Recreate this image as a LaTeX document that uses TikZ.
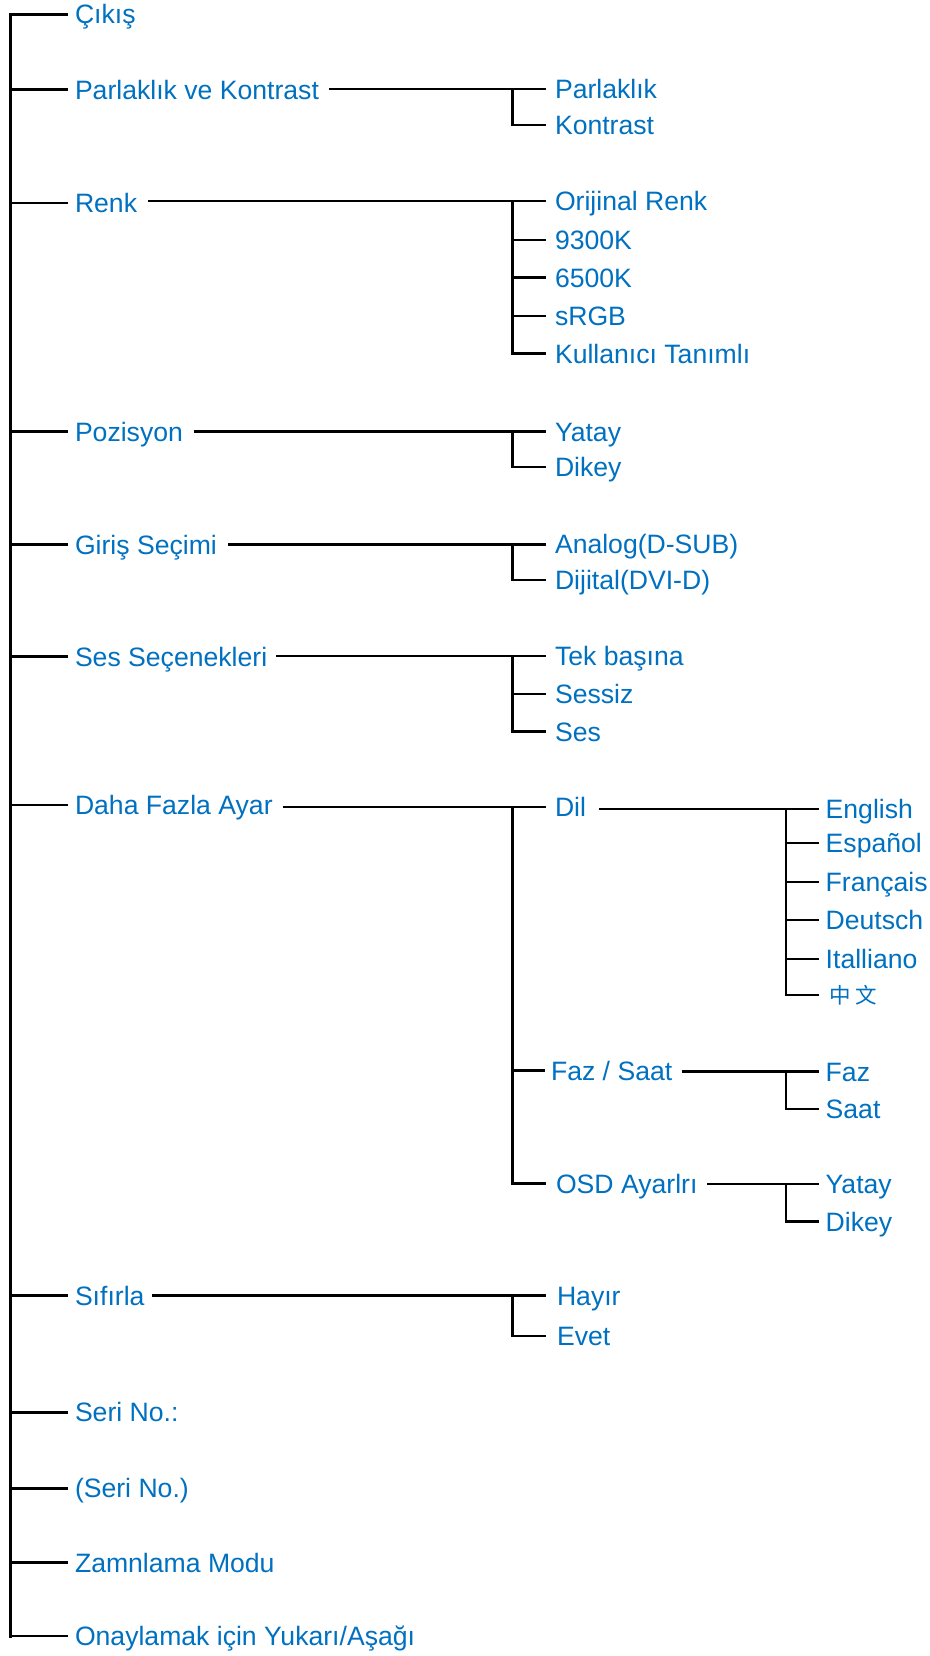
\documentclass[tikz,border=0pt]{standalone}
\usepackage{fontspec}
\setmainfont{Liberation Sans}
\newfontfamily\cjkfont{Noto Sans CJK SC}
\usetikzlibrary{calc}
\definecolor{menublue}{HTML}{0070C0}
\begin{document}
\begin{tikzpicture}[x=1pt,y=-1pt,
  lbl/.style={anchor=west, inner sep=0pt, outer sep=0pt, text=menublue,
    font=\fontsize{26.6}{31}\selectfont, text height=19pt, text depth=0pt},
  conn/.style={line width=2.6pt, line cap=rect},
  trunk/.style={line width=3pt, line cap=rect}]
\useasboundingbox (0,0) rectangle (929,1656);
\coordinate (T) at (10,0);
\coordinate (J) at (512.5,0);
\coordinate (K) at (786,0);

% level 1
\node[lbl] (cikis)   at (75,14.5)   {Çıkış};
\node[lbl] (parkon)  at (75,89.7)   {Parlaklık ve Kontrast};
\node[lbl] (renk)    at (75,203)    {Renk};
\node[lbl] (poz)     at (75,431.7)  {Pozisyon};
\node[lbl] (giris)   at (75,544.5)  {Giriş Seçimi};
\node[lbl] (ses)     at (75,656.5)  {Ses Seçenekleri};
\node[lbl] (daha)    at (75,805)    {Daha Fazla Ayar};
\node[lbl] (sifirla) at (75,1295.7) {Sıfırla};
\node[lbl] (seri)    at (75,1412.3) {Seri No.:};
\node[lbl] (seriB)   at (75,1488.3) {(Seri No.)};
\node[lbl] (zam)     at (75,1562.7) {Zamnlama Modu};
\node[lbl] (onay)    at (75,1636)   {Onaylamak için Yukarı/Aşağı};

% level 2
\node[lbl] (parlaklik) at (555,89)    {Parlaklık};
\node[lbl] (kontrast)  at (555,125)   {Kontrast};
\node[lbl] (orijinal)  at (555,201)   {Orijinal Renk};
\node[lbl] (kA)        at (555,240)   {9300K};
\node[lbl] (kB)        at (555,277.7) {6500K};
\node[lbl] (srgb)      at (555,316)   {sRGB};
\node[lbl] (kullanici) at (555,353.5) {Kullanıcı Tanımlı};
\node[lbl] (yatay)     at (555,431.7) {Yatay};
\node[lbl] (dikey)     at (555,467)   {Dikey};
\node[lbl] (analog)    at (555,544.3) {Analog(D-SUB)};
\node[lbl] (dijital)   at (555,580)   {Dijital(DVI-D)};
\node[lbl] (tek)       at (555,656)   {Tek başına};
\node[lbl] (sessiz)    at (555,694)   {Sessiz};
\node[lbl] (sesc)      at (555,731.5) {Ses};
\node[lbl] (dil)       at (555,807)   {Dil};
\node[lbl] (fazsaat)   at (551,1070.5){Faz / Saat};
\node[lbl] (osd)       at (556,1183.5){OSD Ayarlrı};
\node[lbl] (hayir)     at (557,1295.7){Hayır};
\node[lbl] (evet)      at (557,1336)  {Evet};

% level 3
\node[lbl] (english)   at (825.7,809)  {English};
\node[lbl] (espanol)   at (825.7,843)  {Español};
\node[lbl] (francais)  at (825.7,882)  {Français};
\node[lbl] (deutsch)   at (825.7,920)  {Deutsch};
\node[lbl] (italliano) at (825.7,959)  {Italliano};
\node[lbl, font=\cjkfont\fontsize{21.5}{25}\selectfont, text height=16pt] (zh) at (829,995) {中\hspace{5pt}文};
\node[lbl] (faz)       at (825.7,1071.5) {Faz};
\node[lbl] (saat)      at (825.7,1109)   {Saat};
\node[lbl] (yatayB)    at (825.7,1184)   {Yatay};
\node[lbl] (dikeyB)    at (825.7,1221.5) {Dikey};

% trunk
\draw[trunk] (T |- cikis.west) -- (T |- onay.west);
\foreach \n in {cikis,parkon,renk,poz,giris,ses,daha,sifirla,seri,seriB,zam,onay}
  \draw[conn] (T |- \n.west) -- ($(\n.west)+(-8.5,0)$);

% level 2 groups
\draw[conn] let \p1=(parkon.east), \p2=(parlaklik.west) in (\x1+11pt,\y2) -- (\x2-10pt,\y2);
\draw[conn] (J |- parlaklik.west) -- (J |- kontrast.west);
\foreach \c in {kontrast} \draw[conn] (J |- \c.west) -- ($(\c.west)+(-10,0)$);

\draw[conn] let \p1=(renk.east), \p2=(orijinal.west) in (\x1+12pt,\y2) -- (\x2-10pt,\y2);
\draw[conn] (J |- orijinal.west) -- (J |- kullanici.west);
\foreach \c in {kA,kB,srgb,kullanici} \draw[conn] (J |- \c.west) -- ($(\c.west)+(-10,0)$);

\draw[conn] let \p1=(poz.east), \p2=(yatay.west) in (\x1+12pt,\y2) -- (\x2-10pt,\y2);
\draw[conn] (J |- yatay.west) -- (J |- dikey.west);
\foreach \c in {dikey} \draw[conn] (J |- \c.west) -- ($(\c.west)+(-10,0)$);

\draw[conn] let \p1=(giris.east), \p2=(analog.west) in (\x1+12pt,\y2) -- (\x2-10pt,\y2);
\draw[conn] (J |- analog.west) -- (J |- dijital.west);
\foreach \c in {dijital} \draw[conn] (J |- \c.west) -- ($(\c.west)+(-10,0)$);

\draw[conn] let \p1=(ses.east), \p2=(tek.west) in (\x1+10pt,\y2) -- (\x2-10pt,\y2);
\draw[conn] (J |- tek.west) -- (J |- sesc.west);
\foreach \c in {sessiz,sesc} \draw[conn] (J |- \c.west) -- ($(\c.west)+(-10,0)$);

\draw[conn] let \p1=(daha.east), \p2=(dil.west) in (\x1+12pt,\y2) -- (\x2-10pt,\y2);
\draw[conn] (J |- dil.west) -- (J |- osd.west);
\draw[conn] (J |- fazsaat.west) -- ($(fazsaat.west)+(-7,0)$);
\draw[conn] (J |- osd.west) -- ($(osd.west)+(-11,0)$);

\draw[conn] let \p1=(sifirla.east), \p2=(hayir.west) in (\x1+9pt,\y2) -- (\x2-12pt,\y2);
\draw[conn] (J |- hayir.west) -- (J |- evet.west);
\foreach \c in {evet} \draw[conn] (J |- \c.west) -- ($(\c.west)+(-12,0)$);

% level 3 groups
\draw[conn] let \p1=(dil.east), \p2=(english.west) in (\x1+14pt,\y2) -- (\x2-8pt,\y2);
\draw[conn] (K |- english.west) -- (K |- zh.west);
\foreach \c in {espanol,francais,deutsch,italliano} \draw[conn] (K |- \c.west) -- ($(\c.west)+(-8,0)$);
\draw[conn] (K |- zh.west) -- ($(zh.west)+(-11.3,0)$);

\draw[conn] let \p1=(fazsaat.east), \p2=(faz.west) in (\x1+11pt,\y2) -- (\x2-8pt,\y2);
\draw[conn] (K |- faz.west) -- (K |- saat.west);
\draw[conn] (K |- saat.west) -- ($(saat.west)+(-8,0)$);

\draw[conn] let \p1=(osd.east), \p2=(yatayB.west) in (\x1+11pt,\y2) -- (\x2-8pt,\y2);
\draw[conn] (K |- yatayB.west) -- (K |- dikeyB.west);
\draw[conn] (K |- dikeyB.west) -- ($(dikeyB.west)+(-8,0)$);
\end{tikzpicture}
\end{document}
